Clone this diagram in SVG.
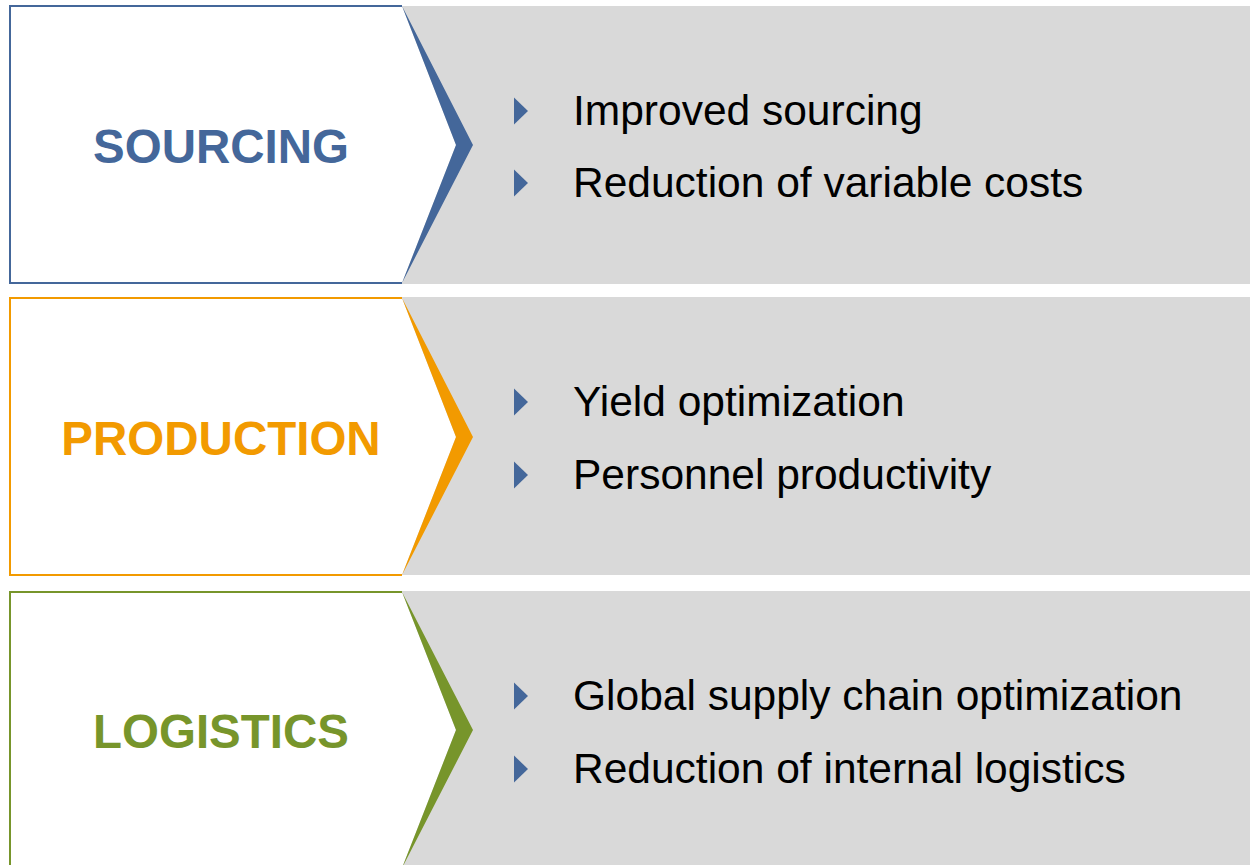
<svg xmlns="http://www.w3.org/2000/svg" width="1250" height="865" viewBox="0 0 1250 865">
<style>
.band{fill:#D9D9D9}
.box{fill:#fff;stroke-width:2}
.title{font-family:"Liberation Sans",Arial,sans-serif;font-weight:bold;font-size:47.5px;text-anchor:middle}
.item{font-family:"Liberation Sans",Arial,sans-serif;font-size:42.5px;fill:#000}
.bul{fill:#44679A}
</style>
<defs>
<polygon id="tri" points="0,-13.5 14,0 0,13.5"/>
</defs>
<rect width="1250" height="865" fill="#fff"/>
<g id="sourcing">
<rect class="band" x="402" y="6" width="848" height="278"/>
<polygon points="10,6 402,6 456,145 402,283 10,283" fill="#fff"/>
<path class="box" d="M402,6 H10 V283 H402" stroke="#44679A"/>
<polygon points="402,6 473,145 402,283 456,145" fill="#44679A"/>
<text class="title" x="221" y="163" fill="#44679A">SOURCING</text>
<use href="#tri" class="bul" x="514" y="111"/>
<use href="#tri" class="bul" x="514" y="183"/>
<text class="item" x="573" y="125">Improved sourcing</text>
<text class="item" x="573" y="197">Reduction of variable costs</text>
</g>
<g id="production">
<rect class="band" x="402" y="297" width="848" height="278"/>
<polygon points="10,298 402,298 456,437 402,575 10,575" fill="#fff"/>
<path class="box" d="M402,298 H10 V575 H402" stroke="#F29A00"/>
<polygon points="402,298 473,437 402,575 456,437" fill="#F29A00"/>
<text class="title" x="221" y="455" fill="#F29A00">PRODUCTION</text>
<use href="#tri" class="bul" x="514" y="402"/>
<use href="#tri" class="bul" x="514" y="475"/>
<text class="item" x="573" y="416">Yield optimization</text>
<text class="item" x="573" y="489">Personnel productivity</text>
</g>
<g id="logistics">
<rect class="band" x="402" y="591" width="848" height="280"/>
<polygon points="10,592 402,592 456,730 402,868 10,868" fill="#fff"/>
<path class="box" d="M402,592 H10 V870 H402" stroke="#77952B"/>
<polygon points="402,592 473,730 402,868 456,730" fill="#77952B"/>
<text class="title" x="221" y="748" fill="#77952B">LOGISTICS</text>
<use href="#tri" class="bul" x="514" y="696"/>
<use href="#tri" class="bul" x="514" y="769"/>
<text class="item" x="573" y="710">Global supply chain optimization</text>
<text class="item" x="573" y="783">Reduction of internal logistics</text>
</g>
<g id="connectors"/>
</svg>
